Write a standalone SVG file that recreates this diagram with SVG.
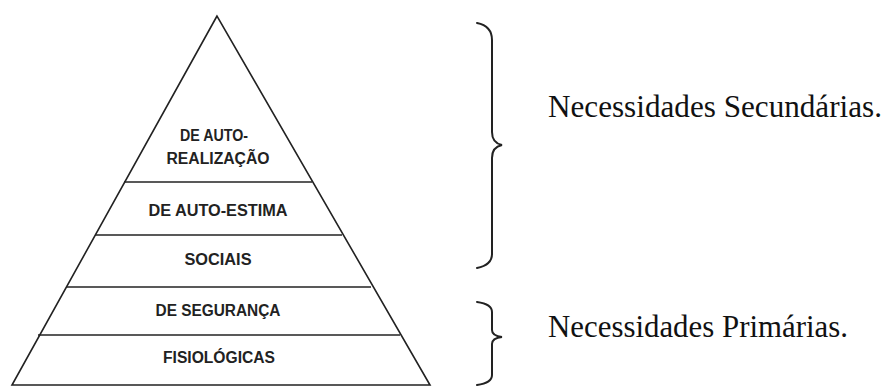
<svg xmlns="http://www.w3.org/2000/svg" width="887" height="386" viewBox="0 0 887 386">
<style>
.ln{stroke:#222;stroke-width:1.6;fill:none}
.lvl{font-family:"Liberation Sans",Arial,sans-serif;font-weight:bold;font-size:16px;fill:#222;text-anchor:middle}
.lab{font-family:"Liberation Serif","Times New Roman",serif;font-size:30.5px;fill:#111}
.br{stroke:#222;stroke-width:2;fill:none;stroke-linecap:round}
</style>
<rect width="887" height="386" fill="#fff"/>
<g id="pyramid">
<polygon class="ln" points="217,16 12,385 430,385"/>
</g>
<g id="connectors">
<line class="ln" x1="124" y1="182" x2="312" y2="182"/>
<line class="ln" x1="95" y1="235" x2="342" y2="235"/>
<line class="ln" x1="66" y1="287" x2="371" y2="287"/>
<line class="ln" x1="38" y1="335" x2="400" y2="335"/>
</g>
<g id="n-autorealizacao"><text class="lvl" x="214" y="141" textLength="68" lengthAdjust="spacingAndGlyphs">DE AUTO-</text><text class="lvl" x="218" y="164" textLength="103" lengthAdjust="spacingAndGlyphs">REALIZAÇÃO</text></g>
<g id="n-autoestima"><text class="lvl" x="218" y="216" textLength="139" lengthAdjust="spacingAndGlyphs">DE AUTO-ESTIMA</text></g>
<g id="n-sociais"><text class="lvl" x="218" y="265" textLength="67" lengthAdjust="spacingAndGlyphs">SOCIAIS</text></g>
<g id="n-seguranca"><text class="lvl" x="218" y="316" textLength="125" lengthAdjust="spacingAndGlyphs">DE SEGURANÇA</text></g>
<g id="n-fisiologicas"><text class="lvl" x="219" y="363" textLength="112" lengthAdjust="spacingAndGlyphs">FISIOLÓGICAS</text></g>
<g id="brace-sec">
<path class="br" d="M477,23 Q492,26 492,40 L492,132 Q492,143 502,145 Q492,147 492,158 L492,254 Q492,265 477,268"/>
<text class="lab" x="548" y="117" textLength="334" lengthAdjust="spacingAndGlyphs">Necessidades Secundárias.</text>
</g>
<g id="brace-prim">
<path class="br" d="M477,302 Q492,304 492,312 L492,330 Q492,336 502,337 Q492,338 492,344 L492,375 Q492,383 477,385"/>
<text class="lab" x="548" y="337" textLength="300" lengthAdjust="spacingAndGlyphs">Necessidades Primárias.</text>
</g>
</svg>
